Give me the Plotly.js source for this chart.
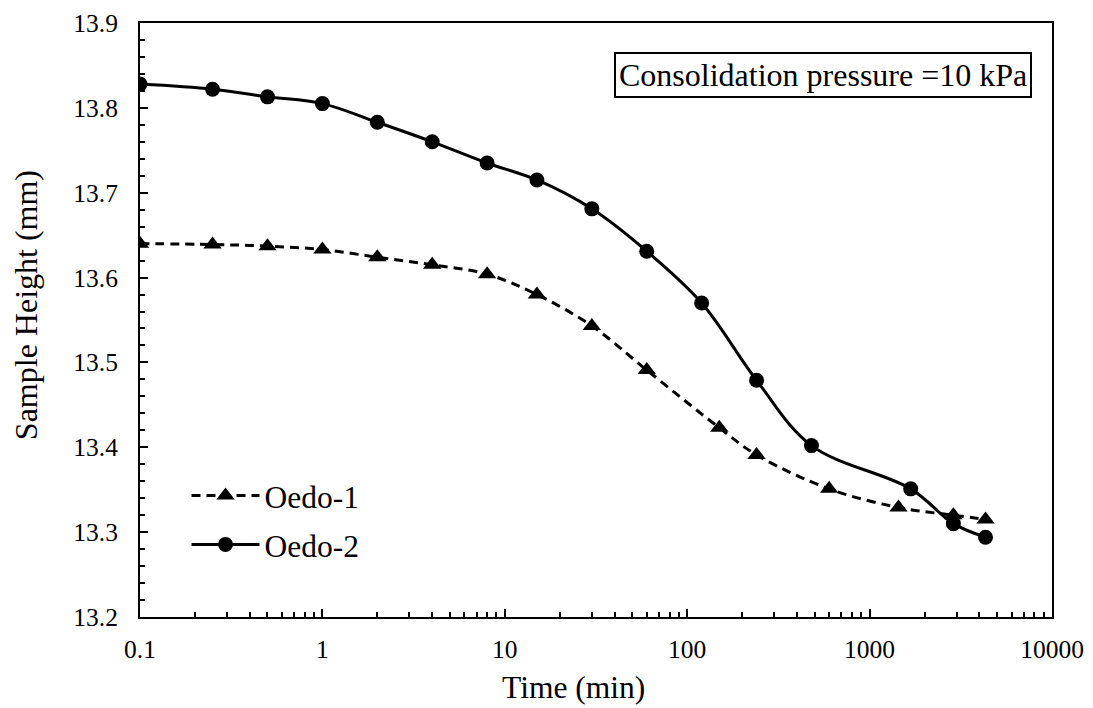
<!DOCTYPE html>
<html>
<head>
<meta charset="utf-8">
<script src="https://cdn.plot.ly/plotly-3.0.1.min.js"></script>
<style>html,body{margin:0;padding:0;background:#fff;}#chart{width:1093px;height:708px;}</style>
</head>
<body>
<div id="chart"></div>
<script>
// Time (min)
const timeOedo1 = [0.1, 0.25, 0.5, 1, 2, 4, 8, 15, 30, 60, 150, 240, 600, 1440, 2880, 4320];
const heightOedo1 = [13.640, 13.639, 13.637, 13.633, 13.624, 13.615, 13.604, 13.580, 13.543, 13.491, 13.423, 13.391, 13.351, 13.329, 13.320, 13.315];
const timeOedo2 = [0.1, 0.25, 0.5, 1, 2, 4, 8, 15, 30, 60, 120, 240, 480, 1680, 2880, 4320];
const heightOedo2 = [13.828, 13.822, 13.813, 13.805, 13.783, 13.760, 13.735, 13.715, 13.681, 13.631, 13.570, 13.479, 13.402, 13.351, 13.310, 13.294];
const xTickVals = [0.1, 1, 10, 100, 1000, 10000];
const xTickText = ['0.1', '1', '10', '100', '1000', '10000'];
const seriesNames = ['Oedo-1', 'Oedo-2'];
const annotationText = 'Consolidation pressure =10 kPa';
const xTitle = 'Time (min)';
const yTitle = 'Sample Height (mm)';

const font = 'Liberation Serif';

const traces = [
  {
    x: timeOedo1, y: heightOedo1, name: seriesNames[0], legendgroup: 'a',
    type: 'scatter', mode: 'lines+markers',
    line: {color: 'black', width: 3, dash: '9px,6px', shape: 'spline', smoothing: 1},
    marker: {symbol: 'triangle-up', size: 16, color: 'black'}
  },
  {
    x: timeOedo2, y: heightOedo2, name: seriesNames[1], legendgroup: 'b',
    type: 'scatter', mode: 'lines+markers',
    line: {color: 'black', width: 3, shape: 'spline', smoothing: 1},
    marker: {symbol: 'circle', size: 15, color: 'black'}
  }
];

const layout = {
  width: 1093, height: 708,
  margin: {l: 140, r: 41, t: 23, b: 91},
  paper_bgcolor: 'white', plot_bgcolor: 'white',
  font: {family: font, color: 'black', size: 25.5},
  showlegend: true,
  legend: {
    x: 0.051, y: 0.25, xanchor: 'left', yanchor: 'top',
    bgcolor: 'rgba(0,0,0,0)', font: {family: font, size: 31.5, color: 'black'},
    traceorder: 'grouped', tracegroupgap: 5, itemwidth: 68
  },
  xaxis: {
    type: 'log', range: [-1, 4],
    tickvals: xTickVals, ticktext: xTickText,
    showline: true, linecolor: 'black', linewidth: 2, mirror: true,
    ticks: 'inside', ticklen: 8, tickwidth: 2, tickcolor: 'black',
    ticklabelstandoff: 8,
    minor: {ticks: 'inside', ticklen: 5, tickwidth: 2, tickcolor: 'black', dtick: 'D1', showgrid: false},
    showgrid: false, zeroline: false,
    tickfont: {family: font, size: 25.5, color: 'black'}
  },
  yaxis: {
    range: [13.2, 13.9], dtick: 0.1, tick0: 13.2, tickformat: '.1f',
    showline: true, linecolor: 'black', linewidth: 2, mirror: true,
    ticks: 'inside', ticklen: 8, tickwidth: 2, tickcolor: 'black',
    ticklabelstandoff: 15,
    minor: {ticks: 'inside', ticklen: 5, tickwidth: 2, tickcolor: 'black', dtick: 0.02, showgrid: false},
    showgrid: false, zeroline: false,
    tickfont: {family: font, size: 25.5, color: 'black'}
  },
  annotations: [
    {
      text: annotationText, xref: 'paper', yref: 'paper',
      x: 0.978, y: 0.913, xanchor: 'right', yanchor: 'middle',
      showarrow: false, font: {family: font, size: 32, color: 'black'},
      bordercolor: 'black', borderwidth: 2, borderpad: 3, bgcolor: 'white'
    },
    {
      text: xTitle, xref: 'paper', yref: 'paper',
      x: 0.475, y: -0.118, xanchor: 'center', yanchor: 'middle',
      showarrow: false, font: {family: font, size: 31.5, color: 'black'}
    },
    {
      text: yTitle, xref: 'paper', yref: 'paper', textangle: -90,
      x: -0.125, y: 0.525, xanchor: 'center', yanchor: 'middle',
      showarrow: false, font: {family: font, size: 32, color: 'black'}
    }
  ]
};

Plotly.newPlot('chart', traces, layout, {displayModeBar: false, staticPlot: true});
</script>
</body>
</html>
